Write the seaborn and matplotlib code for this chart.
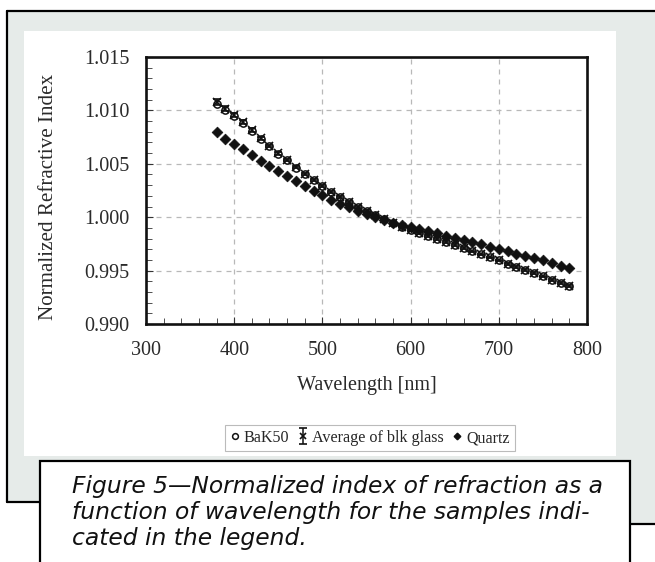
import numpy as np
import pandas as pd
import seaborn as sns
import matplotlib
matplotlib.use("Agg")
import matplotlib.pyplot as plt
from matplotlib.patches import Rectangle, Polygon
from matplotlib.lines import Line2D
from matplotlib.ticker import MultipleLocator

# ---------------- data ----------------
wavelength = [380, 390, 400, 410, 420, 430, 440, 450, 460, 470,
              480, 490, 500, 510, 520, 530, 540, 550, 560, 570,
              580, 590, 600, 610, 620, 630, 640, 650, 660, 670,
              680, 690, 700, 710, 720, 730, 740, 750, 760, 770, 780]

bak50 = [1.01060, 1.01000, 1.00948, 1.00885, 1.00810, 1.00735, 1.00665, 1.00595, 1.00533, 1.00465,
         1.00402, 1.00346, 1.00292, 1.00238, 1.00190, 1.00142, 1.00098, 1.00056, 1.00017, 0.99980,
         0.99945, 0.99912, 0.99880, 0.99851, 0.99823, 0.99794, 0.99766, 0.99737, 0.99709, 0.99680,
         0.99652, 0.99623, 0.99595, 0.99565, 0.99535, 0.99505, 0.99475, 0.99445, 0.99415, 0.99385, 0.99355]

avg_blk = [1.01080, 1.01015, 1.00958, 1.00893, 1.00815, 1.00738, 1.00667, 1.00597, 1.00534, 1.00466,
           1.00402, 1.00346, 1.00292, 1.00238, 1.00190, 1.00142, 1.00098, 1.00056, 1.00017, 0.99980,
           0.99945, 0.99912, 0.99880, 0.99851, 0.99823, 0.99794, 0.99766, 0.99737, 0.99709, 0.99680,
           0.99652, 0.99623, 0.99595, 0.99565, 0.99535, 0.99505, 0.99475, 0.99445, 0.99415, 0.99385, 0.99355]

avg_err = [0.00025, 0.00022, 0.00020, 0.00018, 0.00016, 0.00014, 0.00012, 0.00011, 0.00010, 0.00010,
           0.00009, 0.00009, 0.00008, 0.00008, 0.00008, 0.00008, 0.00008, 0.00008, 0.00008, 0.00008,
           0.00008, 0.00008, 0.00008, 0.00008, 0.00008, 0.00008, 0.00008, 0.00008, 0.00008, 0.00008,
           0.00008, 0.00008, 0.00008, 0.00008, 0.00008, 0.00008, 0.00008, 0.00008, 0.00008, 0.00008, 0.00008]

quartz = [1.00797, 1.00735, 1.00690, 1.00636, 1.00582, 1.00530, 1.00480, 1.00436, 1.00385, 1.00336,
          1.00290, 1.00245, 1.00205, 1.00165, 1.00128, 1.00093, 1.00060, 1.00030, 1.00002, 0.99975,
          0.99950, 0.99927, 0.99905, 0.99886, 0.99868, 0.99848, 0.99828, 0.99808, 0.99788, 0.99766,
          0.99745, 0.99722, 0.99700, 0.99680, 0.99659, 0.99638, 0.99617, 0.99595, 0.99570, 0.99545, 0.99520]

series_names = ["BaK50", "Average of blk glass", "Quartz"]
x_ticks = [300, 400, 500, 600, 700, 800]
y_ticks = [0.990, 0.995, 1.000, 1.005, 1.010, 1.015]
x_label = "Wavelength [nm]"
y_label = "Normalized Refractive Index"
caption_lines = ["Figure 5\u2014Normalized index of refraction as a",
                 "function of wavelength for the samples indi-",
                 "cated in the legend."]

df = pd.DataFrame({"wavelength": wavelength, "bak50": bak50, "avg": avg_blk,
                   "err": avg_err, "quartz": quartz})

# ---------------- figure ----------------
sns.set_theme(style="white")
plt.rcParams["font.family"] = ["Liberation Serif", "DejaVu Serif"]

W, H = 655, 562
fig = plt.figure(figsize=(W / 100, H / 100), dpi=100)
fig.patch.set_facecolor("white")

def fx(px):
    return px / W

def fy(py):
    return 1 - py / H

panel_col = "#E6EBE9"
fig.patches.append(Polygon([(fx(7), fy(11)), (fx(655), fy(11)), (fx(655), fy(524)),
                            (fx(40), fy(524)), (fx(40), fy(502)), (fx(7), fy(502))],
                           closed=True, transform=fig.transFigure, facecolor=panel_col,
                           edgecolor="none", zorder=0))
fig.patches.append(Rectangle((fx(24), fy(456)), fx(616) - fx(24), fy(31) - fy(456),
                             transform=fig.transFigure, facecolor="white", edgecolor="none", zorder=0.5))
for (x0, y0, x1, y1) in [(7, 11, 655, 11), (7, 11, 7, 502), (7, 502, 40, 502), (630, 524, 655, 524)]:
    fig.lines.append(Line2D([fx(x0), fx(x1)], [fy(y0), fy(y1)], transform=fig.transFigure,
                            color="black", lw=1.6, zorder=1))
fig.patches.append(Rectangle((fx(40), fy(566)), fx(630) - fx(40), fy(461) - fy(566),
                             transform=fig.transFigure, facecolor="white", edgecolor="black",
                             lw=1.6, zorder=2))
for i, line in enumerate(caption_lines):
    fig.text(fx(72), fy(487 + 25.5 * i), line, ha="left", va="center", fontsize=16.8,
             style="italic", family=["DejaVu Sans"], color="#111111", zorder=3)

# ---------------- axes ----------------
ax = fig.add_axes([fx(146), fy(324), fx(587) - fx(146), fy(57) - fy(324)])
ax.set_facecolor("white")
ax.set_zorder(3)

bak_art = ax.plot(df["wavelength"], df["bak50"], ls="none", marker="o", ms=5.2,
                  mfc="none", mec="#111111", mew=1.1, zorder=4)[0]
avg_art = ax.errorbar(df["wavelength"], df["avg"], yerr=df["err"], fmt="x", ms=5.5,
                      color="#111111", mew=1.2, elinewidth=1.1, capsize=3, capthick=1.1, zorder=5)
sns.scatterplot(data=df, x="wavelength", y="quartz", marker="D", s=30, color="#111111",
                edgecolor="#111111", linewidth=0.5, ax=ax, zorder=6, legend=False)
quartz_art = Line2D([], [], ls="none", marker="D", ms=4.2, color="#111111")

ax.set_xlim(300, 800)
ax.set_ylim(0.990, 1.015)
ax.set_xticks(x_ticks)
ax.set_yticks(y_ticks)
ax.set_xticklabels([str(v) for v in x_ticks])
ax.set_yticklabels([f"{v:.3f}" for v in y_ticks])
ax.xaxis.set_minor_locator(MultipleLocator(20))
ax.yaxis.set_minor_locator(MultipleLocator(0.001))
ax.tick_params(axis="both", which="both", direction="in", colors="#333333",
               labelcolor="#2a2a2a", labelsize=14.5, pad=12)
ax.tick_params(which="major", length=5, width=0.8, bottom=True, left=True)
ax.tick_params(which="minor", length=4, width=0.6, bottom=True, left=True)
ax.grid(True, which="major", color="#b8b8b8", ls=(0, (4, 4)), lw=0.9)
for sp in ax.spines.values():
    sp.set_color("#111111")
    sp.set_linewidth(1.9)
    sp.set_visible(True)

ax.set_xlabel(x_label, fontsize=14.5, color="#2a2a2a", labelpad=12)
ax.set_ylabel(y_label, fontsize=15.1, color="#2a2a2a")
ax.yaxis.set_label_coords(-0.20, 0.475)

leg = fig.legend([bak_art, avg_art, quartz_art], series_names, loc="center",
                 bbox_to_anchor=(fx(370), fy(438)), ncol=3, fontsize=11.6,
                 frameon=True, fancybox=False, edgecolor="#bbbbbb", framealpha=1,
                 handlelength=0.6, handletextpad=0.25, columnspacing=0.55, borderpad=0.3,
                 markerscale=0.8)
leg.get_frame().set_linewidth(0.8)
leg.set_zorder(4)

fig.savefig("out.png", dpi=100)
